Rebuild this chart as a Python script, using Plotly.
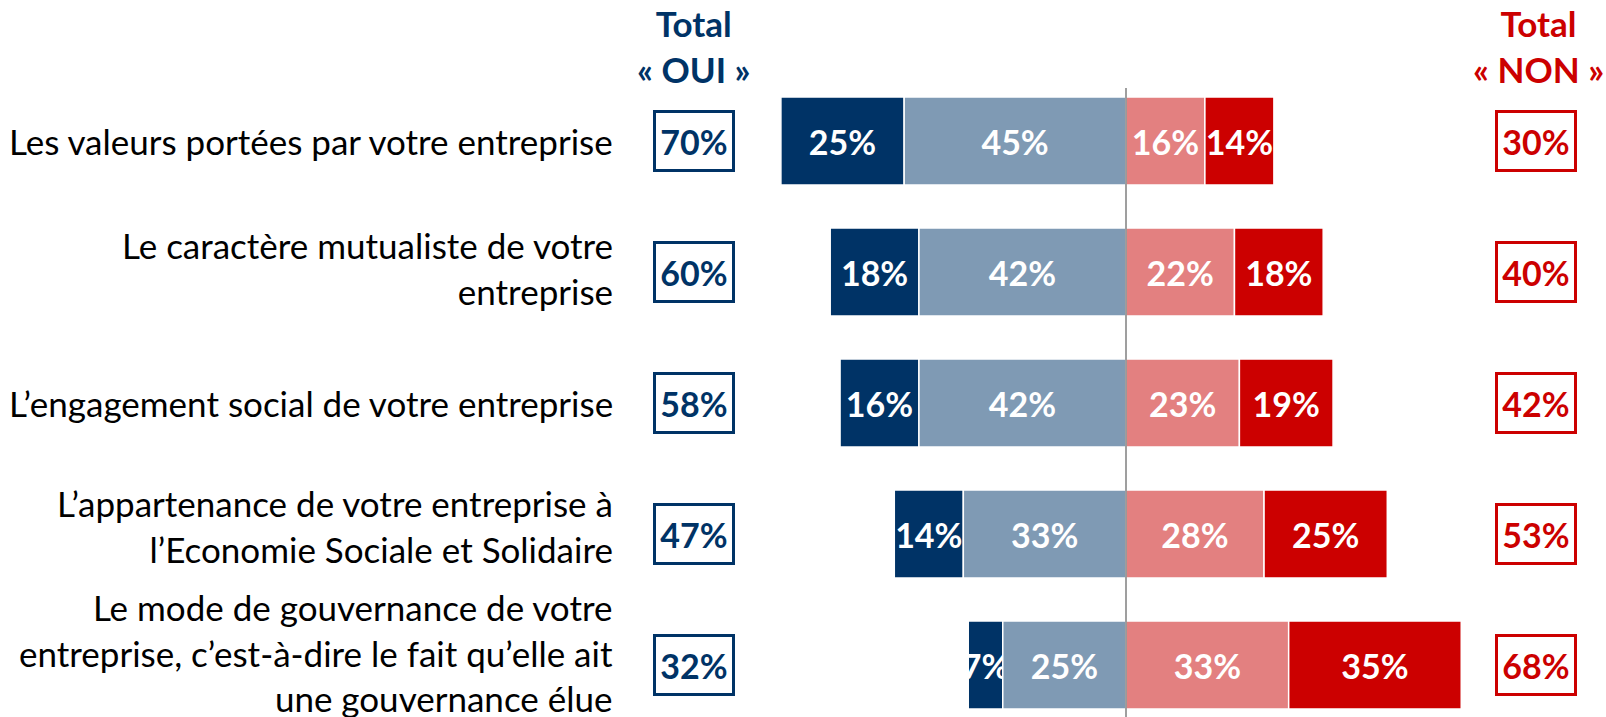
import plotly.graph_objects as go

categories = [
    "Les valeurs portées par votre entreprise",
    "Le caractère mutualiste de votre<br>entreprise",
    "L’engagement social de votre entreprise",
    "L’appartenance de votre entreprise à<br>l’Economie Sociale et Solidaire",
    "Le mode de gouvernance de votre<br>entreprise, c’est-à-dire le fait qu’elle ait<br>une gouvernance élue",
]
oui_tout_a_fait = [25, 18, 16, 14, 7]
oui_plutot = [45, 42, 42, 33, 25]
non_plutot_pas = [16, 22, 23, 28, 33]
non_pas_du_tout = [14, 18, 19, 25, 35]
total_oui = [70, 60, 58, 47, 32]
total_non = [30, 40, 42, 53, 68]

DARK_BLUE = "#003366"
LIGHT_BLUE = "#7F9AB4"
LIGHT_RED = "#E38080"
RED = "#CC0000"
FONT = "Lato"

W, H = 1606, 717
zero_px = 1126
scale = 4.93  # px per %
xmin = -zero_px / scale
xmax = (W - zero_px) / scale
row0_px = 141
row_step = 131
ymin_k = -row0_px / row_step
ymax_k = (H - row0_px) / row_step
bar_w = 88 / row_step
label_shift = [0, 4, 0, 8, 13]

idx = list(range(len(categories)))

fig = go.Figure()

def add_bar(vals, base, color, sign):
    fig.add_trace(go.Bar(
        y=idx, x=[sign * v for v in vals], base=[sign * b for b in base],
        orientation="h", width=bar_w,
        marker=dict(color=color, line=dict(color="white", width=1.5)),
        text=[f"{v}%" for v in vals],
        textposition="inside", insidetextanchor="middle",
        constraintext="none", textangle=0,
        textfont=dict(family=FONT, size=34, color="white", weight="bold"),
        showlegend=False, hoverinfo="skip",
    ))

zeros = [0] * len(categories)
# outer segments drawn first so inner segments sit on top (as in the original)
add_bar(oui_tout_a_fait, oui_plutot, DARK_BLUE, -1)
add_bar(oui_plutot, zeros, LIGHT_BLUE, -1)
add_bar(non_plutot_pas, zeros, LIGHT_RED, 1)
add_bar(non_pas_du_tout, non_plutot_pas, RED, 1)

annotations = []
for i, cat in enumerate(categories):
    annotations.append(dict(
        x=615 / W, xref="paper", y=i, yref="y", xanchor="right", yanchor="middle",
        yshift=label_shift[i],
        text=cat, showarrow=False, align="right",
        font=dict(family=FONT, size=35, color="#000000"),
    ))
    annotations.append(dict(
        x=694 / W, xref="paper", y=i, yref="y", xanchor="center", yanchor="middle",
        text=f"<b>{total_oui[i]}%</b>", showarrow=False,
        width=76, height=56, borderpad=0, borderwidth=3, bordercolor=DARK_BLUE,
        font=dict(family=FONT, size=34, color=DARK_BLUE),
    ))
    annotations.append(dict(
        x=1536 / W, xref="paper", y=i, yref="y", xanchor="center", yanchor="middle",
        text=f"<b>{total_non[i]}%</b>", showarrow=False,
        width=76, height=56, borderpad=0, borderwidth=3, bordercolor=RED,
        font=dict(family=FONT, size=34, color=RED),
    ))

annotations.append(dict(
    x=694 / W, xref="paper", y=1 - 46 / H, yref="paper", xanchor="center", yanchor="middle",
    text="<b>Total<br>« OUI »</b>", showarrow=False,
    font=dict(family=FONT, size=35, color=DARK_BLUE),
))
annotations.append(dict(
    x=1538 / W, xref="paper", y=1 - 46 / H, yref="paper", xanchor="center", yanchor="middle",
    text="<b>Total<br>« NON »</b>", showarrow=False,
    font=dict(family=FONT, size=35, color=RED),
))

fig.update_layout(
    width=W, height=H,
    margin=dict(l=0, r=0, t=0, b=0, autoexpand=False),
    barmode="overlay",
    plot_bgcolor="white", paper_bgcolor="white",
    xaxis=dict(range=[xmin, xmax], visible=False, fixedrange=True),
    yaxis=dict(range=[ymax_k, ymin_k], visible=False, fixedrange=True),
    annotations=annotations,
    shapes=[dict(type="line", xref="x", yref="y", x0=0, x1=0,
                 y0=(88 - row0_px) / row_step, y1=ymax_k,
                 line=dict(color="#7F7F7F", width=1.5), layer="above")],
)

fig.write_html(
    "out.html",
    config={"displayModeBar": False},
    post_script="document.body.style.margin='0';document.body.style.overflow='hidden';",
)
